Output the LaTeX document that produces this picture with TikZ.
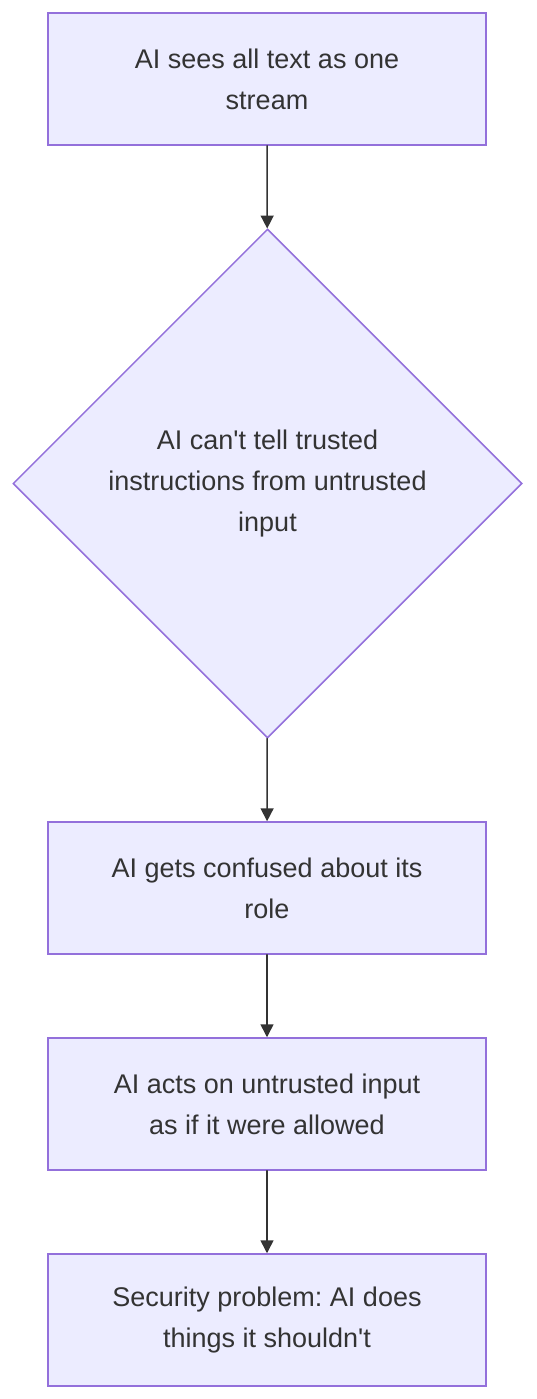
\documentclass[tikz,border=0pt]{standalone}
\usepackage{fontspec}
\setmainfont[Ligatures=TeXOff]{Liberation Sans}
\usepackage{tikz}
\usetikzlibrary{arrows.meta}
\usetikzlibrary{shapes,positioning}
\frenchspacing
\definecolor{boxfill}{HTML}{ECECFF}
\definecolor{boxline}{HTML}{9370DB}
\definecolor{ink}{HTML}{333333}
\tikzset{>={Triangle[length=13pt,width=13pt]},
  flowbox/.style={draw=boxline,fill=boxfill,line width=1.5pt,
    minimum width=438pt,minimum height=132pt,inner sep=0pt,
    align=center,text=ink,font=\fontsize{27}{41}\selectfont},
  flowdiamond/.style={diamond,draw=boxline,fill=boxfill,line width=1.5pt,
    minimum width=509pt,minimum height=509pt,inner sep=0pt,
    align=center,text=ink,font=\fontsize{27}{41}\selectfont},
  flowarrow/.style={->,draw=ink,fill=ink,line width=1.5pt}}

\begin{document}
\begin{tikzpicture}[x=1pt,y=-1pt,line cap=round]

  \useasboundingbox (0,0) rectangle (536,1399);

  \node [flowbox] (stream) at (267,79) {AI sees all text as one\\stream};
  \node [flowdiamond] (tell) at (267.5,483.5) {AI can't tell trusted\\instructions from untrusted\\input};
  \node [flowbox] (confused) at (267,888) {AI gets confused about its\\role};
  \node [flowbox] (acts) at (267,1104) {AI acts on untrusted input\\as if it were allowed};
  \node [flowbox] (problem) at (267,1320) {Security problem: AI does\\things it shouldn't};

  \draw [flowarrow] (stream) -- (tell);
  \draw [flowarrow] (tell) -- (confused);
  \draw [flowarrow] (confused) -- (acts);
  \draw [flowarrow] (acts) -- (problem);

\end{tikzpicture}
\end{document}
